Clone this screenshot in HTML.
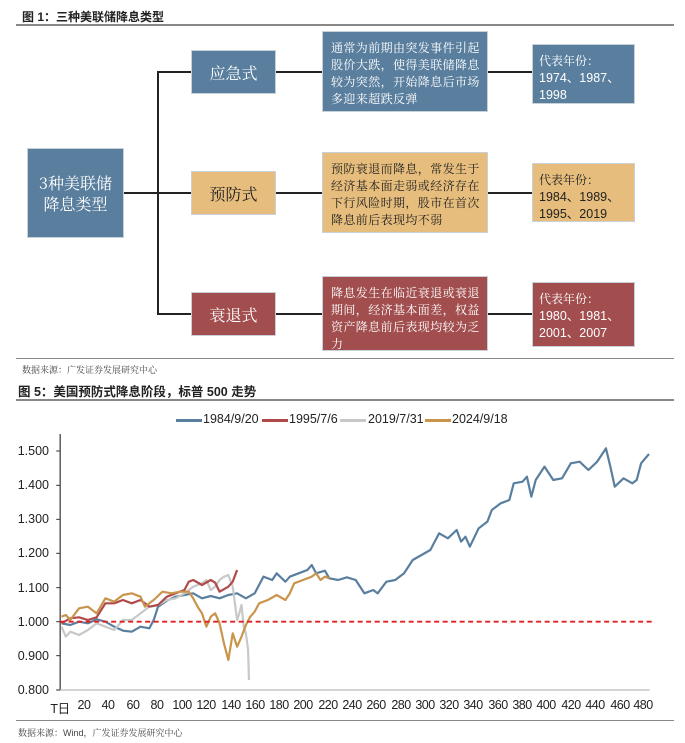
<!DOCTYPE html>
<html><head><meta charset="utf-8"><style>
*{margin:0;padding:0;box-sizing:border-box}
body{width:685px;height:743px;background:#fff;position:relative;overflow:hidden;font-family:"Liberation Sans","Noto Sans CJK SC",sans-serif}
.a{position:absolute;white-space:nowrap}
.t{font-size:12px;font-weight:bold;color:#222}
.hr{position:absolute;height:1.5px;background:#888;left:16px;width:658px}
.b{position:absolute;color:#fff;border:1px solid #c8d0d8}
.blue{background:#5a7f9e}.gold{background:#e6bd7c;color:#222}.red{background:#a24e4e}
.mid{display:flex;align-items:center;justify-content:center;font-family:"Noto Serif CJK SC",serif;font-size:16px}
.desc{font-family:"Noto Serif CJK SC",serif;font-size:12px;line-height:17px;padding:7px 0 0 8px;letter-spacing:0.4px}
.yr{font-size:12.5px;line-height:17px;padding:7px 0 0 6px}
.yr span{font-family:"Noto Serif CJK SC",serif;font-size:12px}
.ln{position:absolute;background:#222}
.src{font-size:9px;color:#444;font-family:"Liberation Sans","Noto Serif CJK SC",serif}
.yl{position:absolute;right:636px;font-size:12.5px;color:#222;transform:translateY(-50%)}
.xl{position:absolute;top:698px;font-size:12.5px;color:#222;transform:translateX(-50%);letter-spacing:-0.5px}
.lg{position:absolute;top:412px;font-size:12.5px;color:#222}
.lgl{position:absolute;top:419px;height:2.5px;width:26px}
</style></head><body>
<div class="a t" style="left:22px;top:8px">图 1：三种美联储降息类型</div>
<div class="hr" style="top:24px"></div>
<div class="ln" style="left:124px;top:192px;width:68px;height:1.5px"></div>
<div class="ln" style="left:157px;top:71px;width:1.5px;height:244px"></div>
<div class="ln" style="left:157px;top:71px;width:34px;height:1.5px"></div>
<div class="ln" style="left:157px;top:313px;width:34px;height:1.5px"></div>
<div class="ln" style="left:276px;top:71px;width:256px;height:1.5px"></div>
<div class="ln" style="left:276px;top:192px;width:256px;height:1.5px"></div>
<div class="ln" style="left:276px;top:313px;width:256px;height:1.5px"></div>
<div class="b blue mid" style="left:27px;top:148px;width:97px;height:90px;line-height:21px;text-align:center">3种美联储<br>降息类型</div>
<div class="b blue mid" style="left:191px;top:50px;width:85px;height:44px">应急式</div>
<div class="b gold mid" style="left:191px;top:171px;width:85px;height:44px">预防式</div>
<div class="b red mid" style="left:191px;top:292px;width:85px;height:44px">衰退式</div>
<div class="b blue desc" style="left:322px;top:31px;width:166px;height:81px">通常为前期由突发事件引起股价大跌，使得美联储降息较为突然，开始降息后市场多迎来超跌反弹</div>
<div class="b gold desc" style="left:322px;top:152px;width:166px;height:81px">预防衰退而降息，常发生于经济基本面走弱或经济存在下行风险时期，股市在首次降息前后表现均不弱</div>
<div class="b red desc" style="left:322px;top:276px;width:166px;height:75px">降息发生在临近衰退或衰退期间，经济基本面差，权益资产降息前后表现均较为乏力</div>
<div class="b blue yr" style="left:532px;top:44px;width:103px;height:60px"><span>代表年份：</span><br>1974、1987、<br>1998</div>
<div class="b gold yr" style="left:532px;top:163px;width:103px;height:59px"><span>代表年份：</span><br>1984、1989、<br>1995、2019</div>
<div class="b red yr" style="left:532px;top:282px;width:103px;height:65px"><span>代表年份：</span><br>1980、1981、<br>2001、2007</div>
<div class="hr" style="top:358px;height:1px"></div>
<div class="a src" style="left:22px;top:363px">数据来源：广发证券发展研究中心</div>
<div class="a t" style="left:18px;top:381px;font-size:12.5px">图 5：美国预防式降息阶段，标普 500 走势</div>
<div class="hr" style="top:399px"></div>

<div class="lgl" style="left:176px;background:#5a7f9e"></div><div class="lg" style="left:203px">1984/9/20</div>
<div class="lgl" style="left:262px;background:#b04a4a"></div><div class="lg" style="left:289px">1995/7/6</div>
<div class="lgl" style="left:340px;background:#c8c8c8"></div><div class="lg" style="left:368px">2019/7/31</div>
<div class="lgl" style="left:425px;background:#c9954c"></div><div class="lg" style="left:452px">2024/9/18</div>

<div class="yl" style="top:451px">1.500</div><div class="yl" style="top:485px">1.400</div><div class="yl" style="top:519px">1.300</div><div class="yl" style="top:553px">1.200</div><div class="yl" style="top:588px">1.100</div><div class="yl" style="top:622px">1.000</div><div class="yl" style="top:656px">0.900</div><div class="yl" style="top:690px">0.800</div>

<div class="xl" style="left:60px">T日</div><div class="xl" style="left:84px">20</div><div class="xl" style="left:108px">40</div><div class="xl" style="left:133px">60</div><div class="xl" style="left:157px">80</div><div class="xl" style="left:182px">100</div><div class="xl" style="left:206px">120</div><div class="xl" style="left:231px">140</div><div class="xl" style="left:255px">160</div><div class="xl" style="left:279px">180</div><div class="xl" style="left:303px">200</div><div class="xl" style="left:328px">220</div><div class="xl" style="left:352px">240</div><div class="xl" style="left:376px">260</div><div class="xl" style="left:401px">280</div><div class="xl" style="left:425px">300</div><div class="xl" style="left:449px">320</div><div class="xl" style="left:473px">340</div><div class="xl" style="left:498px">360</div><div class="xl" style="left:522px">380</div><div class="xl" style="left:546px">400</div><div class="xl" style="left:571px">420</div><div class="xl" style="left:595px">440</div><div class="xl" style="left:620px">460</div><div class="xl" style="left:643px">480</div>

<svg class="a" style="left:0;top:360px" width="685" height="383" viewBox="0 0 1560 1149" preserveAspectRatio="none">
<line x1="137" y1="222" x2="137" y2="990" stroke="#333" stroke-width="1.2" vector-effect="non-scaling-stroke"/>
<line x1="128" y1="990" x2="1480" y2="990" stroke="#bbb" stroke-width="1.2" vector-effect="non-scaling-stroke"/>
<g stroke="#333" stroke-width="1"><line x1="128" y1="273" x2="137" y2="273" vector-effect="non-scaling-stroke"/><line x1="128" y1="376" x2="137" y2="376" vector-effect="non-scaling-stroke"/><line x1="128" y1="478" x2="137" y2="478" vector-effect="non-scaling-stroke"/><line x1="128" y1="580" x2="137" y2="580" vector-effect="non-scaling-stroke"/><line x1="128" y1="683" x2="137" y2="683" vector-effect="non-scaling-stroke"/><line x1="128" y1="785" x2="137" y2="785" vector-effect="non-scaling-stroke"/><line x1="128" y1="887" x2="137" y2="887" vector-effect="non-scaling-stroke"/><line x1="128" y1="990" x2="137" y2="990" vector-effect="non-scaling-stroke"/></g>
<g fill="none" stroke-width="2.2" stroke-linejoin="round">
<polyline vector-effect="non-scaling-stroke" stroke="#5a7f9e" points="140,790 160,795 180,785 200,790 220,778 240,785 260,800 280,812 300,815 320,800 340,805 350,780 360,740 380,722 400,710 420,705 440,700 460,715 480,708 500,715 520,705 540,700 560,715 580,700 600,650 620,660 630,640 650,665 660,650 680,640 700,630 710,615 720,640 740,632 750,655 770,660 790,652 810,660 830,700 850,690 860,700 880,665 900,660 920,640 940,600 960,585 980,570 1000,520 1020,535 1040,510 1050,545 1060,530 1070,560 1090,505 1110,485 1120,450 1140,430 1160,420 1170,370 1190,365 1200,350 1210,410 1220,360 1240,320 1260,360 1280,355 1300,310 1320,305 1340,330 1360,305 1380,265 1390,320 1400,380 1420,355 1440,370 1450,360 1460,310 1478,282"/>
<polyline vector-effect="non-scaling-stroke" stroke="#c8c8c8" points="140,800 150,830 160,815 180,825 200,810 220,790 240,800 260,810 280,780 300,780 320,760 340,740 360,735 380,720 400,715 420,700 440,680 460,670 470,660 480,690 490,680 500,660 510,650 520,645 530,680 540,780 545,760 550,735 555,800 560,820 565,870 567,960"/>
<polyline vector-effect="non-scaling-stroke" stroke="#b04a4a" points="140,790 160,775 180,772 200,780 220,772 240,730 260,730 280,720 300,730 320,720 340,740 360,735 380,710 400,700 420,690 430,665 440,660 460,675 480,660 490,668 500,695 520,680 530,665 540,630"/>
<polyline vector-effect="non-scaling-stroke" stroke="#c9954c" points="140,770 150,765 160,780 180,745 200,740 220,760 240,715 260,725 280,705 300,700 320,710 330,740 350,720 370,695 390,700 410,695 430,695 440,715 450,740 460,760 470,800 480,770 490,760 500,790 510,850 520,900 530,820 540,860 550,830 560,795 570,770 580,755 590,730 610,720 630,705 650,720 660,700 670,670 690,660 710,650 720,640 730,660 740,650 750,655"/>
</g>
<line vector-effect="non-scaling-stroke" x1="137" y1="785" x2="1485" y2="785" stroke="#e02020" stroke-width="1.8" stroke-dasharray="5,3.5"/>
</svg>
<div class="hr" style="top:720px;height:1px"></div>
<div class="a src" style="left:18px;top:726px">数据来源：Wind，广发证券发展研究中心</div>
</body></html>
